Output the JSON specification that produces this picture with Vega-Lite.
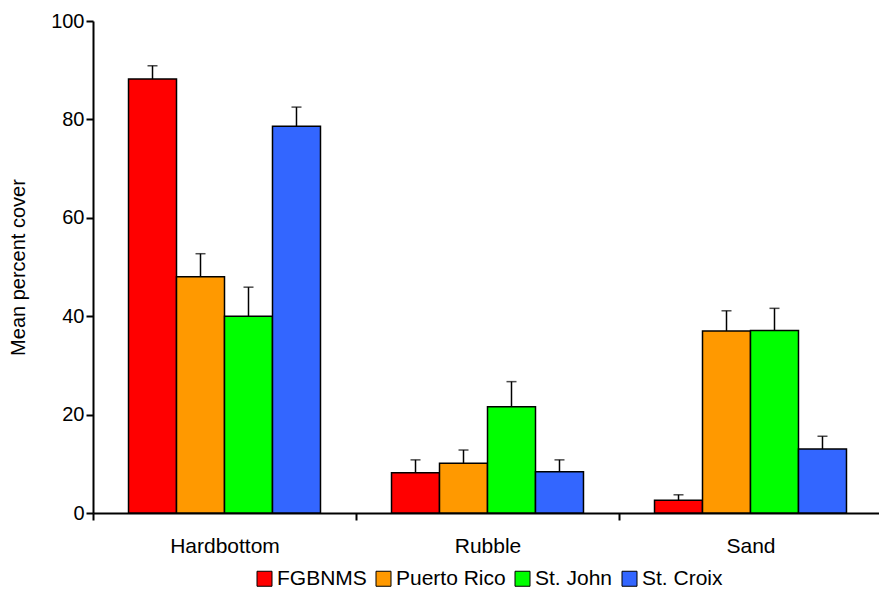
{
  "$schema": "https://vega.github.io/schema/vega-lite/v6.json",
  "width": 789,
  "height": 492,
  "autosize": {"type": "none"},
  "padding": {"left": 93, "top": 21, "right": 0, "bottom": 83},
  "config": {"view": {"stroke": null}, "font": "Liberation Sans"},
  "data": {
    "values": [
      {"habitat": "Hardbottom", "site": "FGBNMS", "mean": 88.2, "upper": 90.9},
      {"habitat": "Hardbottom", "site": "Puerto Rico", "mean": 48.0, "upper": 52.7},
      {"habitat": "Hardbottom", "site": "St. John", "mean": 40.0, "upper": 45.9},
      {"habitat": "Hardbottom", "site": "St. Croix", "mean": 78.6, "upper": 82.5},
      {"habitat": "Rubble", "site": "FGBNMS", "mean": 8.2, "upper": 10.8},
      {"habitat": "Rubble", "site": "Puerto Rico", "mean": 10.1, "upper": 12.8},
      {"habitat": "Rubble", "site": "St. John", "mean": 21.6, "upper": 26.7},
      {"habitat": "Rubble", "site": "St. Croix", "mean": 8.4, "upper": 10.8},
      {"habitat": "Sand", "site": "FGBNMS", "mean": 2.6, "upper": 3.7},
      {"habitat": "Sand", "site": "Puerto Rico", "mean": 37.0, "upper": 41.1},
      {"habitat": "Sand", "site": "St. John", "mean": 37.1, "upper": 41.6},
      {"habitat": "Sand", "site": "St. Croix", "mean": 13.0, "upper": 15.6}
    ]
  },
  "encoding": {
    "x": {
      "field": "habitat", "type": "nominal",
      "sort": ["Hardbottom", "Rubble", "Sand"],
      "scale": {"paddingInner": 0, "paddingOuter": 0},
      "axis": {
        "title": null, "labelAngle": 0, "labelFontSize": 21, "labelColor": "black",
        "labelPadding": 15, "domainColor": "black", "domainWidth": 2,
        "tickColor": "black", "tickWidth": 2, "tickSize": 7, "tickBand": "extent"
      }
    },
    "xOffset": {
      "field": "site", "type": "nominal",
      "sort": ["FGBNMS", "Puerto Rico", "St. John", "St. Croix"],
      "scale": {"paddingInner": 0, "paddingOuter": 0.74}
    }
  },
  "layer": [
    {
      "mark": {"type": "bar", "stroke": "black", "strokeWidth": 1.5, "opacity": 1},
      "encoding": {
        "y": {
          "field": "mean", "type": "quantitative",
          "scale": {"domain": [0, 100], "nice": false},
          "axis": {
            "title": "Mean percent cover", "titleFontSize": 20, "titleFontWeight": "normal",
            "titleColor": "black", "titlePadding": 22,
            "values": [0, 20, 40, 60, 80, 100], "grid": false,
            "labelFontSize": 20, "labelColor": "black", "labelPadding": 2,
            "domainColor": "black", "domainWidth": 2,
            "tickColor": "black", "tickWidth": 2, "tickSize": 7
          }
        },
        "color": {
          "field": "site", "type": "nominal",
          "sort": ["FGBNMS", "Puerto Rico", "St. John", "St. Croix"],
          "scale": {
            "domain": ["FGBNMS", "Puerto Rico", "St. John", "St. Croix"],
            "range": ["#FF0000", "#FF9900", "#00FF00", "#3366FF"]
          },
          "legend": {
            "title": null, "orient": "none", "direction": "horizontal",
            "legendX": 161, "legendY": 547,
            "symbolType": "square", "symbolSize": 225, "symbolStrokeColor": "black",
            "symbolStrokeWidth": 1, "symbolOpacity": 1,
            "labelFontSize": 21, "labelColor": "black", "labelOffset": 2,
            "columnPadding": 6
          }
        }
      }
    },
    {
      "mark": {"type": "rule", "color": "black", "strokeWidth": 1.5},
      "encoding": {
        "y": {"field": "mean", "type": "quantitative"},
        "y2": {"field": "upper"}
      }
    },
    {
      "mark": {"type": "tick", "color": "black", "thickness": 1.5, "size": 10, "orient": "horizontal"},
      "encoding": {
        "y": {"field": "upper", "type": "quantitative"}
      }
    }
  ]
}
